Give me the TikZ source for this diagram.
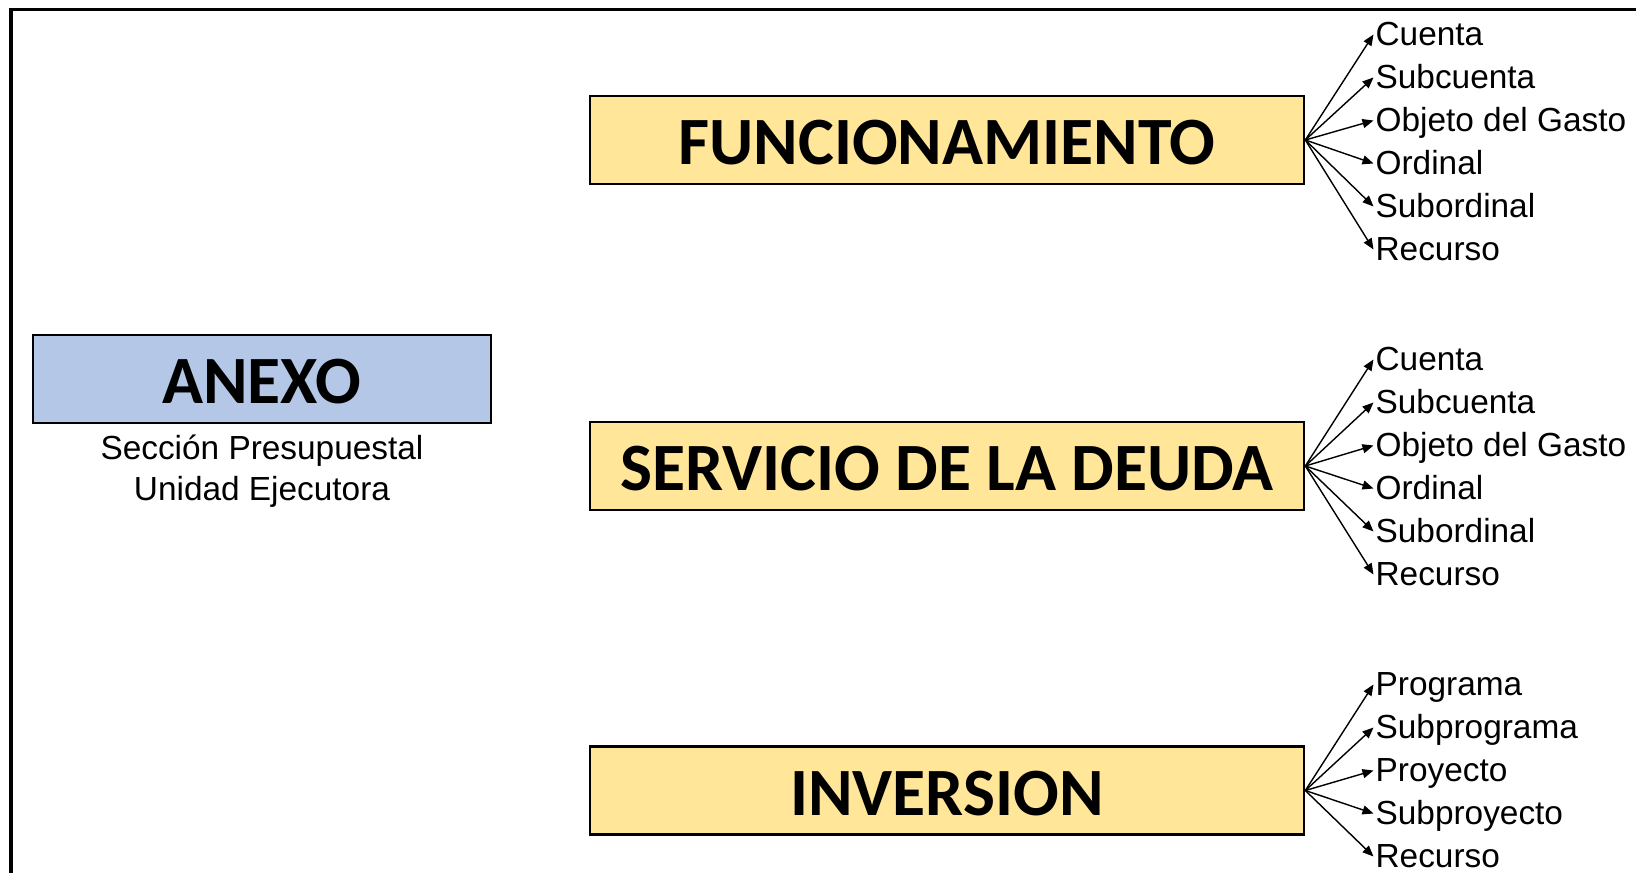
\documentclass[tikz,border=0pt]{standalone}
\usepackage{fontspec}
\setmainfont{Liberation Sans}
\newfontfamily\carlito{Carlito}
\usetikzlibrary{arrows.meta,positioning}
\definecolor{amarillo}{HTML}{FFE699}
\definecolor{azul}{HTML}{B4C7E7}
\tikzset{
	caja/.style={draw=black, line width=1.5pt, fill=amarillo, minimum width=14.28cm, minimum height=1.76cm, inner sep=0pt, text height=28pt, text depth=0pt, font=\carlito\bfseries\fontsize{38.5}{40}\selectfont},
	rubro/.style={anchor=base west, inner sep=1pt, text height=0.48cm, text depth=0.06cm, font=\fontsize{19}{23}\selectfont},
	subtexto/.style={anchor=base, inner sep=0pt, font=\fontsize{19}{23}\selectfont},
	flecha/.style={-{Triangle[length=0.22cm,width=0.18cm]}, line width=0.8pt}
}
\begin{document}
\begin{tikzpicture}
		\useasboundingbox (0,0) rectangle (32.72,-17.46);
		% marco
		\draw[line width=1.9pt] (0.22,-17.46) -- (0.22,-0.19) -- (32.72,-0.19);
		\node[caja, fill=azul, minimum width=9.16cm] (anexo) at (5.24,-7.58) {ANEXO};
		\node[subtexto] (seccion) at (5.24,-9.18) {Sección Presupuestal};
		\node[subtexto] (unidad) at (5.24,-10.0) {Unidad Ejecutora};
		\node[caja] (fun) at (18.94,-2.80) {FUNCIONAMIENTO};
		\node[caja] (deuda) at (18.94,-9.32) {SERVICIO DE LA DEUDA};
		\node[caja] (inv) at (18.94,-15.81) {INVERSION};
		\foreach \t [count=\i] in {Cuenta, Subcuenta, Objeto del Gasto, Ordinal, Subordinal, Recurso}
		{
			\node[rubro] (f\i) at (27.47,{-0.90-0.86*(\i-1)}) {\t};
			\path[flecha] (fun.east) edge (f\i.west);
		}
		\foreach \t [count=\i] in {Cuenta, Subcuenta, Objeto del Gasto, Ordinal, Subordinal, Recurso}
		{
			\node[rubro] (d\i) at (27.47,{-7.40-0.86*(\i-1)}) {\t};
			\path[flecha] (deuda.east) edge (d\i.west);
		}
		\foreach \t [count=\i] in {Programa, Subprograma, Proyecto, Subproyecto, Recurso}
		{
			\node[rubro] (p\i) at (27.47,{-13.90-0.86*(\i-1)}) {\t};
			\path[flecha] (inv.east) edge (p\i.west);
		}
\end{tikzpicture}
\end{document}
